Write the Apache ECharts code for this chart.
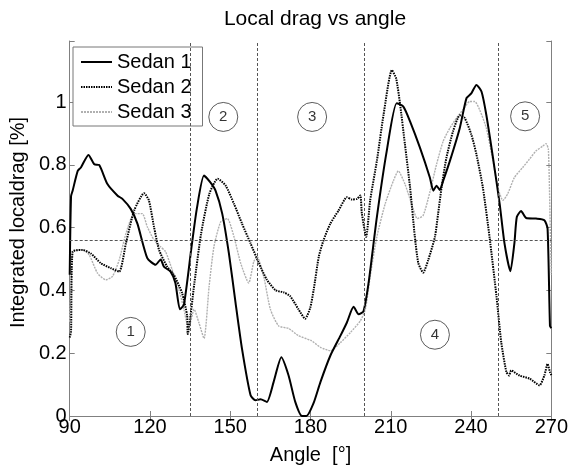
<!DOCTYPE html>
<html>
<head>
<meta charset="utf-8">
<script src="https://cdn.jsdelivr.net/npm/echarts@6/dist/echarts.min.js"></script>
<style>html,body{margin:0;padding:0;background:#fff}#c{width:571px;height:470px}</style>
</head>
<body>
<div id="c"></div>
<script>
var seriesNames = ['Sedan 1', 'Sedan 2', 'Sedan 3'];
var xTicks = [90, 120, 150, 180, 210, 240, 270];
var yTicks = [0, 0.2, 0.4, 0.6, 0.8, 1];

var s1Angle = [90, 90.5, 91.1, 93.0, 94.2, 97.0, 99.2, 101.0, 104.1, 107.9, 109.7, 112.8, 115.3, 119.0, 122.1, 124.0, 125.2, 127.7, 129.5, 131.2, 132.7, 135.4, 137.5, 140.2, 142.5, 144.5, 147.0, 149.5, 152.0, 154.4, 157.6, 159.4, 161.3, 163.7, 166.2, 169.1, 171.8, 174.3, 176.8, 178.5, 181.1, 183.7, 187.4, 191.2, 193.6, 196.1, 198.0, 199.8, 201.7, 204.8, 208.5, 212.2, 214.7, 217.2, 220.9, 224.6, 225.9, 227.1, 228.3, 229.6, 232.1, 235.8, 238.3, 240.1, 242.0, 243.9, 245.7, 248.2, 250.7, 252.5, 254.7, 256.2, 257.1, 258.7, 260.6, 264.3, 267.4, 268.6, 269.5, 270];
var s1Val = [0.45, 0.70, 0.718, 0.781, 0.792, 0.832, 0.802, 0.800, 0.739, 0.702, 0.692, 0.660, 0.613, 0.503, 0.482, 0.499, 0.476, 0.46, 0.424, 0.34, 0.355, 0.53, 0.66, 0.766, 0.745, 0.718, 0.645, 0.518, 0.36, 0.214, 0.066, 0.05, 0.053, 0.045, 0.108, 0.187, 0.129, 0.045, 0.0, 0.0, 0.04, 0.108, 0.192, 0.256, 0.298, 0.348, 0.324, 0.334, 0.424, 0.634, 0.845, 0.997, 0.986, 0.939, 0.855, 0.76, 0.718, 0.734, 0.72, 0.75, 0.813, 0.918, 1.013, 1.028, 1.055, 1.034, 0.96, 0.823, 0.676, 0.55, 0.461, 0.55, 0.634, 0.653, 0.631, 0.629, 0.624, 0.597, 0.287, 0.28];

var s2Angle = [90, 90.5, 91.1, 94.8, 97.9, 101.6, 105.4, 108.5, 111.0, 114.1, 117.8, 119.6, 121.5, 123.4, 126.4, 128.9, 132.0, 133.9, 134.1, 136.6, 139.1, 142.2, 145.3, 148.3, 151.4, 154.4, 157.6, 160.7, 163.7, 166.9, 170.0, 172.4, 175.5, 178.0, 179.9, 181.2, 183.1, 184.9, 187.4, 190.5, 193.6, 195.5, 197.4, 198.6, 199.2, 200.8, 202.3, 204.8, 207.3, 210.4, 212.0, 213.5, 215.3, 217.2, 219.0, 220.3, 222.1, 224.0, 226.5, 227.7, 229.0, 230.8, 233.3, 235.8, 237.6, 240.1, 242.0, 244.4, 246.9, 249.5, 251.3, 253.2, 254.2, 255.0, 258.1, 261.9, 265.6, 267.4, 268.6, 269.5, 270];
var s2Val = [0.25, 0.27, 0.524, 0.529, 0.518, 0.487, 0.471, 0.46, 0.55, 0.655, 0.71, 0.687, 0.603, 0.529, 0.476, 0.45, 0.392, 0.319, 0.261, 0.424, 0.581, 0.708, 0.756, 0.734, 0.676, 0.613, 0.55, 0.487, 0.434, 0.401, 0.394, 0.382, 0.34, 0.31, 0.345, 0.403, 0.508, 0.561, 0.613, 0.655, 0.697, 0.69, 0.692, 0.703, 0.645, 0.571, 0.687, 0.813, 0.96, 1.102, 1.076, 0.992, 0.865, 0.729, 0.571, 0.487, 0.457, 0.497, 0.571, 0.645, 0.729, 0.823, 0.908, 0.958, 0.95, 0.897, 0.834, 0.729, 0.571, 0.382, 0.234, 0.14, 0.129, 0.145, 0.129, 0.119, 0.098, 0.129, 0.166, 0.14, 0.13];

var s3Angle = [90, 90.6, 91.1, 94.8, 97.3, 100.4, 103.5, 106.0, 108.5, 111.0, 114.1, 117.1, 119.0, 121.5, 124.0, 125.8, 128.3, 130.8, 132.7, 133.9, 134.6, 136.5, 138.3, 140.2, 142.1, 143.9, 146.4, 148.9, 151.4, 153.9, 156.9, 158.8, 160.0, 162.5, 165.0, 168.1, 171.8, 175.5, 180.3, 183.7, 187.4, 191.2, 194.9, 198.6, 200.5, 202.3, 204.8, 207.9, 211.0, 212.8, 215.3, 217.8, 219.9, 222.1, 224.6, 227.1, 229.6, 232.1, 234.6, 237.0, 239.5, 241.4, 243.2, 245.7, 248.2, 250.0, 251.9, 253.7, 256.2, 259.3, 261.8, 264.3, 266.8, 268.0, 268.9, 269.6, 270];
var s3Val = [0.3, 0.45, 0.524, 0.53, 0.513, 0.455, 0.434, 0.445, 0.497, 0.581, 0.645, 0.645, 0.603, 0.561, 0.539, 0.524, 0.466, 0.403, 0.34, 0.292, 0.287, 0.34, 0.297, 0.247, 0.413, 0.539, 0.618, 0.629, 0.571, 0.487, 0.424, 0.492, 0.508, 0.445, 0.34, 0.287, 0.279, 0.256, 0.24, 0.219, 0.208, 0.234, 0.266, 0.303, 0.34, 0.445, 0.571, 0.676, 0.75, 0.781, 0.739, 0.676, 0.629, 0.639, 0.713, 0.802, 0.876, 0.918, 0.95, 0.976, 1.002, 1.002, 0.976, 0.918, 0.813, 0.729, 0.687, 0.708, 0.76, 0.792, 0.818, 0.845, 0.86, 0.868, 0.85, 0.6, 0.45];

var regionBounds = [135, 160, 200, 250];
var meanLevel = 0.555;
var regionNames = ['1', '2', '3', '4', '5'];
var regionAngles = [112.8, 147.4, 180.6, 226.5, 260.2];
var regionVals = [0.268, 0.953, 0.953, 0.259, 0.955];

function pairs(a, v) { return a.map(function (x, i) { return [x, v[i]]; }); }

var FONT = "'Liberation Sans', Arial, sans-serif";
var AX = '#808080';
var chart = echarts.init(document.getElementById('c'), null, {renderer: 'canvas'});

var markData = regionBounds.map(function (b) { return {xAxis: b}; });
markData.push({yAxis: meanLevel});

var axisCommonX = {
  type: 'value', min: xTicks[0], max: xTicks[xTicks.length - 1], interval: 30,
  splitLine: {show: false},
  axisLine: {show: true, lineStyle: {color: AX, width: 1}},
  axisTick: {show: true, inside: true, length: 5, lineStyle: {color: AX}}
};
var axisCommonY = {
  type: 'value', min: 0, max: 1.195, interval: 0.2,
  splitLine: {show: false},
  axisLine: {show: true, lineStyle: {color: AX, width: 1}},
  axisTick: {show: true, inside: true, length: 5, lineStyle: {color: AX}}
};

var option = {
  animation: false,
  backgroundColor: '#fff',
  title: {
    text: 'Local drag vs angle', left: 310, top: 4, textAlign: 'center',
    textStyle: {fontFamily: FONT, fontSize: 21, fontWeight: 'normal', color: '#000'}
  },
  legend: {
    data: seriesNames, orient: 'vertical', left: 73, top: 47,
    backgroundColor: '#fff', borderColor: '#777', borderWidth: 1,
    padding: [5, 11, 4, 7], itemGap: 5, itemWidth: 31, itemHeight: 20,
    itemStyle: {color: 'rgba(0,0,0,0)', borderWidth: 0, opacity: 0},
    textStyle: {fontFamily: FONT, fontSize: 20, color: '#000', lineHeight: 20}
  },
  grid: {left: 68, right: 19, top: 41, bottom: 49, containLabel: false},
  xAxis: [
    Object.assign({}, axisCommonX, {
      position: 'bottom', name: 'Angle  [°]', nameLocation: 'middle', nameGap: 29,
      nameTextStyle: {fontFamily: FONT, fontSize: 20, color: '#000'},
      axisLabel: {fontFamily: FONT, fontSize: 20, color: '#000', margin: 1}
    }),
    Object.assign({}, axisCommonX, {position: 'top', axisLabel: {show: false}})
  ],
  yAxis: [
    Object.assign({}, axisCommonY, {
      position: 'left', name: 'Integrated localdrag [%]', nameLocation: 'middle', nameGap: 33,
      nameTextStyle: {fontFamily: FONT, fontSize: 20, color: '#000', padding: [0, 0, 0, 12]},
      axisLabel: {fontFamily: FONT, fontSize: 20, color: '#000', margin: 3,
        formatter: function (v) { return v > 1.01 ? '' : String(Math.round(v * 10) / 10); }}
    }),
    Object.assign({}, axisCommonY, {position: 'right', axisLabel: {show: false}})
  ],
  series: [
    {
      name: 'refs', type: 'line', data: [], silent: true, z: 1,
      markLine: {
        silent: true, symbol: ['none', 'none'], label: {show: false},
        lineStyle: {type: [3, 2], color: '#555', width: 1},
        data: markData
      }
    },
    {
      name: seriesNames[0], type: 'line', data: pairs(s1Angle, s1Val), showSymbol: false, symbol: 'none',
      smooth: 0.2, z: 4, lineStyle: {color: '#000', width: 2, type: 'solid'}, itemStyle: {color: '#000'}
    },
    {
      name: seriesNames[1], type: 'line', data: pairs(s2Angle, s2Val), showSymbol: false, symbol: 'none',
      smooth: 0.2, z: 3, lineStyle: {color: '#000', width: 2, type: [1.5, 1]}, itemStyle: {color: '#000'}
    },
    {
      name: seriesNames[2], type: 'line', data: pairs(s3Angle, s3Val), showSymbol: false, symbol: 'none',
      smooth: 0.2, z: 2, lineStyle: {color: '#b0b0b0', width: 1.4, type: [2, 1]}, itemStyle: {color: '#b0b0b0'}
    },
    {
      name: 'regions', type: 'scatter', z: 5, silent: true,
      symbol: 'circle', symbolSize: 29,
      itemStyle: {color: '#fff', borderColor: '#333', borderWidth: 1},
      label: {show: true, position: 'inside', formatter: '{b}', fontFamily: FONT, fontSize: 15, color: '#000'},
      data: regionNames.map(function (n, i) { return {name: n, value: [regionAngles[i], regionVals[i]]}; })
    }
  ]
};
chart.setOption(option);
</script>
</body>
</html>
